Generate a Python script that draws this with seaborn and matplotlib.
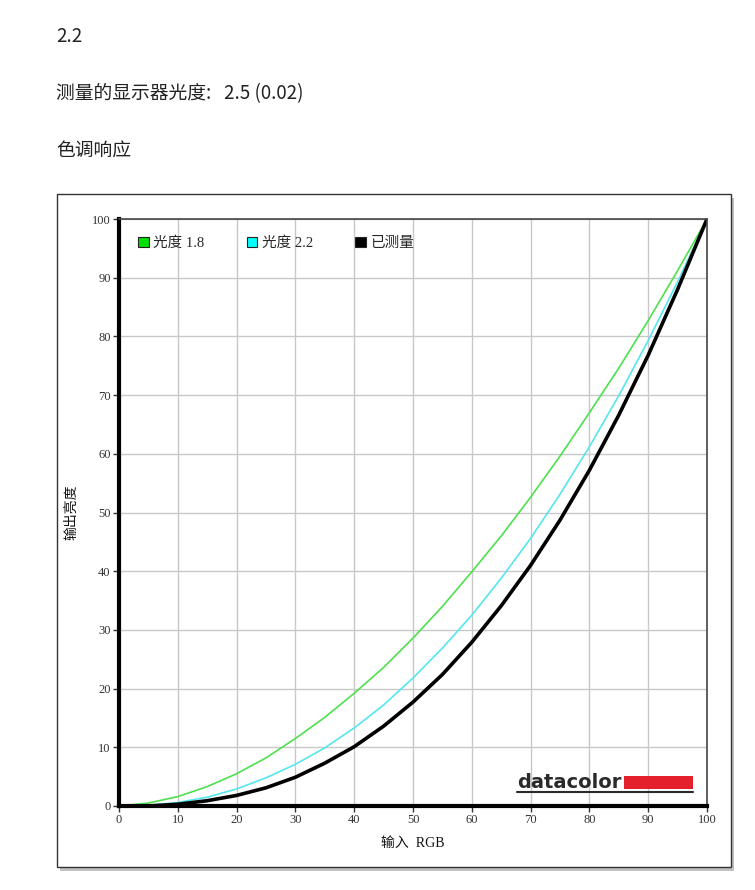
import numpy as np
import pandas as pd
import matplotlib
matplotlib.use("Agg")
import matplotlib.pyplot as plt
import seaborn as sns
from matplotlib.patches import Rectangle, Patch

# values
x_ref = [0, 5, 10, 15, 20, 25, 30, 35, 40, 45, 50, 55, 60, 65, 70, 75, 80, 85, 90, 95, 100]
gamma_18 = [0, 0.5, 1.6, 3.3, 5.5, 8.2, 11.5, 15.1, 19.2, 23.6, 28.6, 34.0, 39.9, 46.0, 52.6, 59.6, 67.0, 74.6, 82.7, 91.2, 100]
gamma_22 = [0, 0.1, 0.6, 1.5, 2.9, 4.8, 7.1, 9.9, 13.3, 17.2, 21.8, 26.9, 32.5, 38.8, 45.6, 53.1, 61.2, 69.9, 79.3, 89.3, 100]
measured = [0, 0.0, 0.3, 0.9, 1.8, 3.1, 4.9, 7.3, 10.1, 13.6, 17.7, 22.4, 27.9, 34.1, 41.0, 48.7, 57.2, 66.6, 76.8, 88.0, 100]

series_names = ["光度 1.8", "光度 2.2", "已测量"]
series_colors = ["#4ee04e", "#55e6ee", "#000000"]
legend_face = ["#00e000", "#00ffff", "#000000"]
ticks = [0, 10, 20, 30, 40, 50, 60, 70, 80, 90, 100]

sns.set_theme(style="white")
plt.rcParams["font.family"] = ["Noto Sans CJK SC", "DejaVu Sans"]

fig = plt.figure(figsize=(7.55, 8.90), dpi=100)
fig.patch.set_facecolor("white")

page_font = ["Noto Sans CJK SC", "DejaVu Sans"]
fig.text(56 / 755, 1 - 37 / 890, "2.2", fontsize=13.5, va="center", color="#222222", family=page_font)
fig.text(56 / 755, 1 - 94 / 890, "测量的显示器光度:   2.5 (0.02)", fontsize=13.5, va="center",
         color="#222222", family=page_font)
fig.text(56 / 755, 1 - 151 / 890, "色调响应", fontsize=13.5, va="center", color="#222222",
         family=page_font)

# framed panel with shadow
fig.patches.append(Rectangle((60 / 755, 1 - 871 / 890), 674 / 755, 673 / 890,
                             transform=fig.transFigure, facecolor="#9a9a9a",
                             edgecolor="none", zorder=0, alpha=0.6))
fig.patches.append(Rectangle((57 / 755, 1 - 867 / 890), 674 / 755, 673 / 890,
                             transform=fig.transFigure, facecolor="white",
                             edgecolor="#333333", linewidth=1.0, zorder=1))

ax = fig.add_axes([119 / 755, 1 - 806 / 890, 588 / 755, 587 / 890])
ax.set_zorder(2)
ax.set_facecolor("white")

df = pd.DataFrame({"x": x_ref, series_names[0]: gamma_18,
                   series_names[1]: gamma_22, series_names[2]: measured})
sns.lineplot(data=df, x="x", y=series_names[0], color=series_colors[0], linewidth=1.2, ax=ax)
sns.lineplot(data=df, x="x", y=series_names[1], color=series_colors[1], linewidth=1.2, ax=ax)
sns.lineplot(data=df, x="x", y=series_names[2], color=series_colors[2], linewidth=2.6, ax=ax)

ax.set_xlim(0, 100)
ax.set_ylim(0, 100)
ax.set_xticks(ticks)
ax.set_yticks(ticks)
ax.grid(True, color="#c8c8c8", linewidth=1.0)
ax.set_axisbelow(True)

serif = ["Liberation Serif", "DejaVu Serif"]
ax.set_xticklabels([str(t) for t in ticks], family=serif, fontsize=9, color="#333333")
ax.set_yticklabels([str(t) for t in ticks], family=serif, fontsize=9, color="#333333")
ax.tick_params(axis="both", which="both", direction="out", length=4, width=1,
               color="#333333", pad=2, left=True, bottom=True)

for side in ["left", "bottom"]:
    ax.spines[side].set_linewidth(3)
    ax.spines[side].set_color("black")
for side in ["top", "right"]:
    ax.spines[side].set_linewidth(1.2)
    ax.spines[side].set_color("#444444")

mixed = ["Liberation Serif", "Noto Sans CJK SC"]
ax.set_xlabel("输入  RGB", fontsize=10, color="#111111", labelpad=8, family=mixed)
ax.set_ylabel("输出亮度", fontsize=10, color="#111111", labelpad=10,
              family=["Noto Sans CJK SC", "DejaVu Sans"])

handles = [Patch(facecolor=legend_face[i], edgecolor="#222222", linewidth=0.8)
           for i in range(3)]
leg = ax.legend(handles, series_names, loc="upper left", ncol=3, frameon=False,
                bbox_to_anchor=(0.007, 0.995), handlelength=0.75, handleheight=0.75,
                handletextpad=0.3, columnspacing=2.9, borderaxespad=0.6,
                prop={"family": mixed, "size": 10.5})

# datacolor logo
ax.text(0.677, 0.031, "datacolor", transform=ax.transAxes, fontsize=14, fontweight="bold",
        color="#2a2a2a", family=["DejaVu Sans"], va="baseline", ha="left")
ax.add_patch(Rectangle((0.859, 0.029), 0.117, 0.022, transform=ax.transAxes,
                       facecolor="#e3202b", edgecolor="none"))
ax.plot([0.677, 0.976], [0.024, 0.024], transform=ax.transAxes, color="#2a2a2a", linewidth=1.5)

fig.savefig("out.png", dpi=100)
